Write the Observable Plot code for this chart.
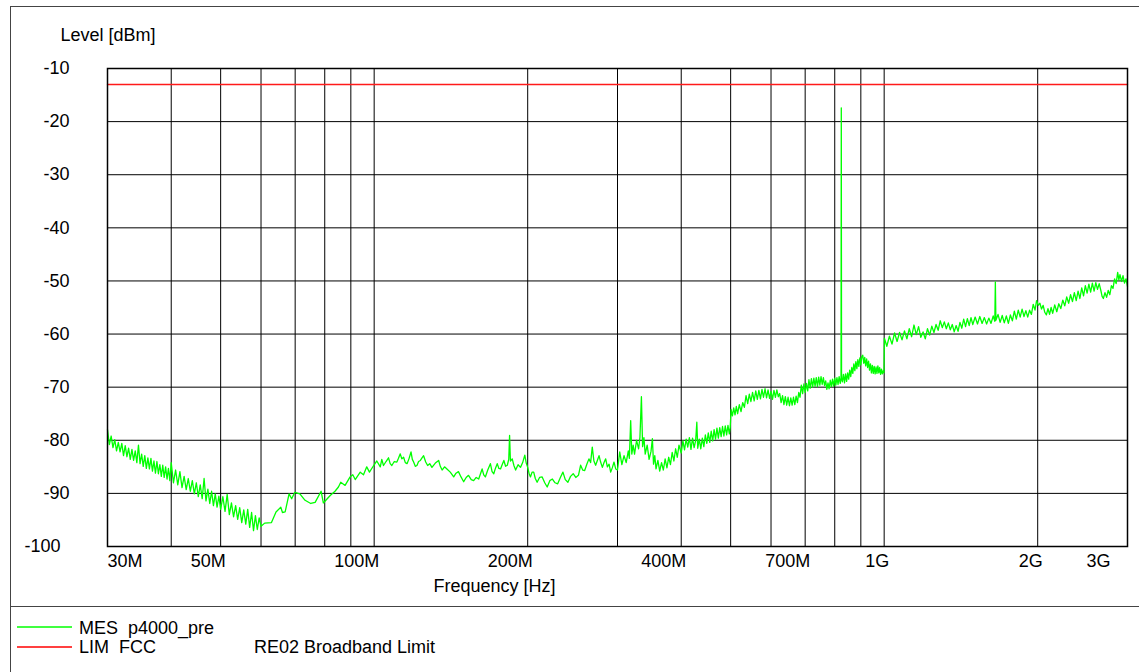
<!DOCTYPE html>
<html><head><meta charset="utf-8">
<script src="https://cdn.jsdelivr.net/npm/d3@7"></script>
<script src="https://cdn.jsdelivr.net/npm/@observablehq/plot@0.6"></script>
<style>
html,body{margin:0;padding:0;background:#fff;}
body{width:1139px;height:672px;overflow:hidden;position:relative;font-family:"Liberation Sans",Arial,sans-serif;}
#box{position:absolute;left:10px;top:6px;width:1140px;height:680px;border-left:1px solid #444;border-top:1px solid #444;}
#chart{position:absolute;left:0;top:0;}
#sep{position:absolute;left:0;top:599px;width:1140px;height:1px;background:#444;}
.leg{position:absolute;font-size:18px;line-height:20px;color:#000;white-space:pre;}
.sw{position:absolute;left:6px;width:56px;height:6px;overflow:visible;}
</style></head>
<body>
<div id="box">
  <div id="chart"></div>
  <div id="sep"></div>
  <svg class="sw" style="top:617px;" width="56" height="6"><line x1="0" y1="3" x2="55" y2="3" stroke="#00ff00" stroke-width="1.5"/></svg>
  <div class="leg" style="left:68px;top:611px;">MES  p4000_pre</div>
  <svg class="sw" style="top:637px;" width="56" height="6"><line x1="0" y1="3" x2="55" y2="3" stroke="#ff0000" stroke-width="1.5"/></svg>
  <div class="leg" style="left:68px;top:630px;">LIM  FCC</div>
  <div class="leg" style="left:243px;top:630px;">RE02 Broadband Limit</div>
</div>
<script>
// ---- axes / grid values (frequency in MHz, level in dBm) ----
const xGrid = [40,50,60,70,80,90,100,200,300,400,500,600,700,800,900,1000,2000];
const yGrid = [-20,-30,-40,-50,-60,-70,-80,-90];
const xTickValues = [30,50,100,200,400,700,1000,2000,3000];
const xTickLabels = ["30M","50M","100M","200M","400M","700M","1G","2G","3G"];
const yTickValues = [-10,-20,-30,-40,-50,-60,-70,-80,-90,-100];
const yTickLabels = ["-10","-20","-30","-40","-50","-60","-70","-80","-90","-100"];

// ---- limit line (LIM FCC) ----
const limitFreq = [30, 3000];
const limitLevel = [-13, -13];

const bandAFreq = [30,30.25,30.5,30.75,31,31.25,31.5,31.75,32,32.25,32.5,32.75,33,33.25,33.5,33.75,34,34.25,34.5,34.75,35,35.25,35.5,35.75,36,36.25,36.5,36.75,37,37.25,37.5,37.75,38,38.25,38.5,38.75,39,39.25,39.5,39.75,40,
40.4,40.8,41.2,41.6,42,42.4,42.8,43.2,43.6,44,44.4,44.8,45.2,45.6,46,46.4,46.8,47.2,47.6,48,48.4,48.8,49.2,49.6,50,
50.5,51,51.5,52,52.5,53,53.5,54,54.5,55,55.5,56,56.5,57,57.5,58,58.5,59,59.5,60];
const bandALevel = [-78.0,-80.8,-79.2,-81.4,-79.9,-82.0,-80.4,-82.2,-80.6,-82.9,-81.0,-83.1,-81.5,-83.6,-81.7,-83.8,-82.0,-84.2,-80.9,-84.4,-82.6,-84.9,-82.9,-85.3,-83.3,-85.4,-83.4,-85.8,-83.9,-86.2,-84.0,-86.3,-84.6,-86.8,-84.7,-87.0,-85.0,-87.3,-85.3,-87.6,-84.2,
-88.0,-85.6,-88.4,-85.9,-88.9,-86.8,-89.3,-87.2,-89.6,-87.6,-90.1,-88.0,-90.6,-88.4,-91.0,-87.2,-91.4,-89.2,-91.9,-89.6,-92.3,-90.1,-92.6,-90.5,-93.0,
-90.6,-93.4,-90.2,-94.0,-91.8,-94.4,-92.3,-94.9,-92.7,-95.5,-93.1,-95.8,-93.0,-96.4,-93.6,-97.0,-94.2,-96.8,-94.6,-96.2];

const bandBFreq = [61,62.9,64.2,65.6,66.1,66.9,68.1,68.9,69.9,71.5,73.2,75.1,76.6,78.7,79.5,82,83.8,85.1,86,87.7,89.7,90.8,91.8,93.9,95.3,96.7,97.9];
const bandBLevel = [-95.6,-95.5,-93.5,-92.6,-93.6,-93.5,-90.1,-91.0,-89.8,-90.1,-91.3,-91.9,-91.7,-89.6,-91.8,-90.4,-89.6,-88.8,-87.9,-88.5,-86.9,-86.5,-87.4,-86.0,-86.5,-85.0,-86.0];

const bandCFreq = [99.7,101.2,102.8,103.5,104.3,105.5,106.7,107.5,108.3,109.5,
110.8,111.6,112.5,113.3,114.2,115.1,116,117,118.1,118.8,
119.5,120.4,121.3,122.2,123.2,124.1,125,126.2,127.3,128.5,
129.8,131.8,133.8,134.8,135.9,137.4,138.9,141,143.2,144.7,
146.3,148,149.8,151.5,153.1,155,156.7,158.5,160.3,161.5,
162.8,164,165.2,167,169,170.3,171.6,173,174.3,175.6,
176.9,178.2,179.6,181,182.4,183.6,184.3,185,186.5,188,
189.4,191.5,193.6,195.5,197.4,198.7,200,201.2,202.5,204,
205.5,207,208.7,211,213.5,216,218.4,221,223.6,226.3,
229,231.8,234.5,237,239.8,242.7,245.6,248.5,251.5,254,
256.4,258.7,261.2,263.7,265.7,267.7,269.7,271.8,273.9,276,
278,280.2,282.3,284.4,286.6,288.8,290.9,293,295.3,297.6];
const bandCLevel = [-84.8,-83.9,-85.0,-83.6,-84.75,-84.0,-83.3,-84.4,-84.75,-84.0,
-84.1,-83.4,-82.55,-83.5,-83.2,-84.2,-84.4,-83.5,-82.2,-83.6,
-84.1,-84.9,-84.75,-84.0,-83.8,-83.3,-82.9,-84.1,-84.75,-84.4,
-85.1,-84.3,-83.8,-84.9,-85.6,-85.0,-85.4,-86.0,-86.9,-86.2,
-85.9,-86.9,-87.8,-87.0,-86.6,-87.4,-87.6,-87.0,-87.3,-86.4,
-85.4,-86.5,-86.9,-85.6,-84.4,-85.9,-86.3,-85.2,-84.4,-85.3,
-85.4,-84.6,-83.8,-84.9,-84.7,-83.6,-79.1,-83.9,-83.5,-84.8,
-85.6,-84.6,-85.1,-84.2,-82.8,-84.3,-85.1,-86.2,-86.9,-86.0,
-86.0,-87.2,-87.9,-87.0,-86.9,-88.0,-88.8,-87.6,-87.3,-88.0,
-88.2,-87.0,-86.0,-87.4,-87.9,-86.8,-86.3,-87.0,-86.6,-84.7,
-85.6,-85.7,-84.5,-83.5,-84.2,-81.3,-83.9,-84.7,-83.8,-82.9,
-84.1,-85.1,-84.2,-83.5,-85.0,-84.5,-86.0,-85.2,-84.1,-85.4];

const bandDFreq = [300,303,306,309,312,315,316.5,318.4,320,322,
324,327,330,332,334.2,336,338,340,343,346,
349,351.2,353,355,357,360,363,366,369,372,
375,378,381,384,387,390,393,396,400,403,
406,409,412,415,418,421,424,427,429.2,431,
434,437,440,443,446,449,452,455,458,461,
464,467,470,473,476,479,482,485,488,491,
494,497,499];
const bandDLevel = [-85.6,-82.2,-84.6,-82.9,-84.2,-82.0,-83.4,-76.3,-82.6,-80.9,
-82.6,-80.0,-81.6,-79.4,-71.8,-81.2,-79.5,-82.6,-80.9,-83.6,
-82.1,-79.7,-84.5,-82.9,-85.4,-83.8,-85.8,-84.2,-85.6,-83.5,
-85.2,-83.2,-84.6,-82.3,-83.9,-81.6,-83.2,-80.9,-82.4,-80.1,
-81.8,-79.8,-81.3,-79.5,-81.7,-79.6,-81.4,-80.0,-76.6,-81.5,
-79.8,-81.6,-79.6,-81.2,-79.0,-80.6,-78.6,-80.4,-78.3,-80.1,
-78.0,-79.8,-77.7,-79.6,-77.6,-79.3,-77.4,-79.2,-77.3,-79.0,
-77.2,-78.8,-77.6];

const bandEFreq = [501,504,507,510,513,516,520,524,528,532,
536,540,544,548,552,556,560,564,568,572,
576,580,584,588,592,596,600,604,608,612,
616,620,624,628,632,636,640,644,648,652,
656,660,664,668,672,676,680,684,688,692,
696,700,704,708,712,716,720,724,728,732,
736,740,744,748,752,756,760,764,768,772,
776,780,784,788,792,796,800,804,808,812,
816,820,823,824,825,828,832,836,840,844,
848,852,856,860,864,868,872,876,880,884,
888,892,896,900,904,908,912,916,920,924,
928,932,936,940,944,948,952,956,960,964,
968,972,976,980,984,988,992,996,999];
const bandELevel = [-74.2,-75.4,-73.9,-75.2,-73.6,-75.0,-73.3,-74.6,-72.9,-73.8,
-71.6,-73.1,-71.3,-72.7,-71.0,-72.6,-70.7,-72.3,-70.6,-72.2,
-70.4,-71.9,-70.3,-72.0,-70.5,-72.1,-70.8,-72.3,-70.6,-71.9,
-70.5,-71.8,-71.2,-72.9,-71.6,-73.3,-71.8,-73.4,-71.9,-73.5,
-72.0,-73.4,-71.9,-73.3,-71.7,-72.9,-71.0,-71.9,-69.6,-71.2,
-69.4,-71.0,-69.3,-70.7,-68.6,-70.2,-68.4,-70.0,-68.3,-69.8,
-68.2,-69.9,-68.1,-69.6,-68.0,-69.5,-68.2,-69.7,-68.8,-70.4,
-69.2,-70.3,-68.7,-69.9,-68.5,-69.8,-68.3,-69.6,-68.2,-69.5,
-68.0,-69.3,-68.2,-17.4,-68.4,-69.0,-67.6,-69.2,-67.5,-68.9,
-67.3,-68.5,-66.8,-68.0,-66.3,-67.4,-65.6,-66.9,-65.2,-66.5,
-64.8,-66.1,-64.5,-65.8,-64.2,-64.0,-65.5,-64.4,-66.0,-64.7,
-66.3,-65.1,-66.8,-65.6,-67.3,-65.9,-67.4,-66.1,-67.5,-66.2,
-67.4,-66.0,-67.3,-66.3,-67.6,-66.6,-67.5,-66.9,-67.3];

const bandFFreq = [1001,1012,1024,1036,1048,1060,1072,1084,1096,1108,
1120,1132,1144,1156,1168,1180,1192,1204,1216,1228,
1240,1252,1264,1276,1288,1300,1312,1324,1336,1348,
1360,1372,1384,1396,1408,1420,1432,1444,1456,1468,
1480,1492,1508,1524,1540,1556,1572,1588,1604,1620,
1636,1648,1652,1656,1672,1688,1704,1720,1736,1752,
1768,1784,1800,1816,1832,1848,1864,1880,1896,1912,
1928,1944,1960,1976,1990,2005,2020,2035,2050,2065,
2080,2095,2110,2125,2140,2160,2180,2200,2220,2240,
2260,2280,2300,2320,2340,2360,2380,2400,2420,2440,
2460,2480,2500,2520,2540,2560,2580,2600,2620,2640,
2660,2675,2690,2710,2730,2750,2770,2790,2810,2830,
2850,2870,2885,2900,2920,2940,2960,2980,3000];
const bandFLevel = [-60.8,-62.3,-60.4,-61.9,-59.8,-61.4,-59.7,-61.1,-59.4,-60.9,
-59.0,-60.5,-58.3,-60.1,-58.6,-60.6,-59.6,-60.9,-59.0,-60.2,
-58.5,-59.7,-58.2,-59.3,-57.5,-58.8,-57.7,-59.0,-57.9,-59.2,
-58.2,-59.6,-58.4,-59.5,-57.8,-58.9,-57.2,-58.6,-57.1,-58.4,
-56.9,-58.2,-56.8,-58.1,-56.7,-58.0,-56.9,-58.1,-57.0,-58.0,
-56.6,-57.6,-50.2,-57.4,-56.3,-57.8,-56.5,-57.9,-56.6,-58.0,
-56.4,-57.5,-55.7,-57.2,-55.5,-56.8,-55.3,-56.7,-55.6,-56.8,
-55.5,-56.3,-54.4,-55.5,-53.7,-54.6,-54.2,-55.3,-54.6,-55.9,
-56.4,-55.2,-56.3,-55.0,-56.1,-54.5,-55.8,-54.3,-55.2,-53.6,
-54.7,-53.0,-54.2,-52.6,-53.9,-52.2,-53.7,-51.9,-53.3,-51.3,
-52.8,-50.9,-52.3,-50.6,-52.1,-50.4,-51.9,-50.3,-51.6,-50.5,
-51.8,-52.9,-53.3,-52.2,-53.1,-51.8,-52.6,-50.9,-51.4,-49.6,
-50.5,-48.4,-49.8,-48.8,-50.1,-49.0,-50.4,-49.6,-51.0];

// ---- build tables ----
const mesFreq = [...bandAFreq, ...bandBFreq, ...bandCFreq, ...bandDFreq, ...bandEFreq, ...bandFFreq];
const mesLevel = [...bandALevel, ...bandBLevel, ...bandCLevel, ...bandDLevel, ...bandELevel, ...bandFLevel];
const n = Math.min(mesFreq.length, mesLevel.length);
const mesRows = mesFreq.slice(0, n).map((f, i) => ({f, v: mesLevel[i]}));
const limitRows = limitFreq.map((f, i) => ({f, v: limitLevel[i]}));
const lastX = xTickValues.length - 1;
const lastY = yTickValues.length - 1;

const chart = Plot.plot({
  width: 1128,
  height: 599,
  marginLeft: 96,
  marginRight: 12,
  marginTop: 61,
  marginBottom: 60,
  x: {type: "log", domain: [30, 3000], axis: null},
  y: {domain: [-100, -10], axis: null},
  style: {fontFamily: '"Liberation Sans", Arial, sans-serif', fontSize: "18px", background: "white", color: "black", overflow: "visible"},
  marks: [
    Plot.ruleX(xGrid, {x: d => d, stroke: "#000", strokeWidth: 1}),
    Plot.ruleY(yGrid, {y: d => d, stroke: "#000", strokeWidth: 1}),
    Plot.line(limitRows, {x: "f", y: "v", stroke: "#ff1a1a", strokeWidth: 1.4}),
    Plot.line(mesRows, {x: "f", y: "v", stroke: "#00ff00", strokeWidth: 1.3}),
    Plot.frame({stroke: "#000", strokeWidth: 1.5}),
    // y tick labels
    Plot.text(yTickValues, {filter: (d, i) => i < lastY, y: d => d, text: (d, i) => yTickLabels[i], frameAnchor: "left", textAnchor: "end", lineAnchor: "middle", dx: -38, fill: "#000"}),
    Plot.text(yTickValues, {filter: (d, i) => i === lastY, y: d => d, text: (d, i) => yTickLabels[i], frameAnchor: "left", textAnchor: "end", lineAnchor: "middle", dx: -47, fill: "#000"}),
    // x tick labels
    Plot.text(xTickValues, {filter: (d, i) => i === 0, x: d => d, text: (d, i) => xTickLabels[i], frameAnchor: "bottom", textAnchor: "start", lineAnchor: "middle", dy: 15, fill: "#000"}),
    Plot.text(xTickValues, {filter: (d, i) => i > 0 && i < lastX, x: d => d, text: (d, i) => xTickLabels[i], frameAnchor: "bottom", textAnchor: "end", lineAnchor: "middle", dx: 5, dy: 15, fill: "#000"}),
    Plot.text(xTickValues, {filter: (d, i) => i === lastX, x: d => d, text: (d, i) => xTickLabels[i], frameAnchor: "bottom", textAnchor: "end", lineAnchor: "middle", dx: -17, dy: 15, fill: "#000"}),
    // axis titles
    Plot.text(["Level [dBm]"], {text: d => d, frameAnchor: "top-left", textAnchor: "start", lineAnchor: "middle", dx: -47, dy: -33, fill: "#000"}),
    Plot.text(["Frequency [Hz]"], {text: d => d, frameAnchor: "bottom-left", textAnchor: "start", lineAnchor: "middle", dx: 326, dy: 40, fill: "#000"})
  ]
});
document.getElementById("chart").appendChild(chart);
</script>
</body></html>
